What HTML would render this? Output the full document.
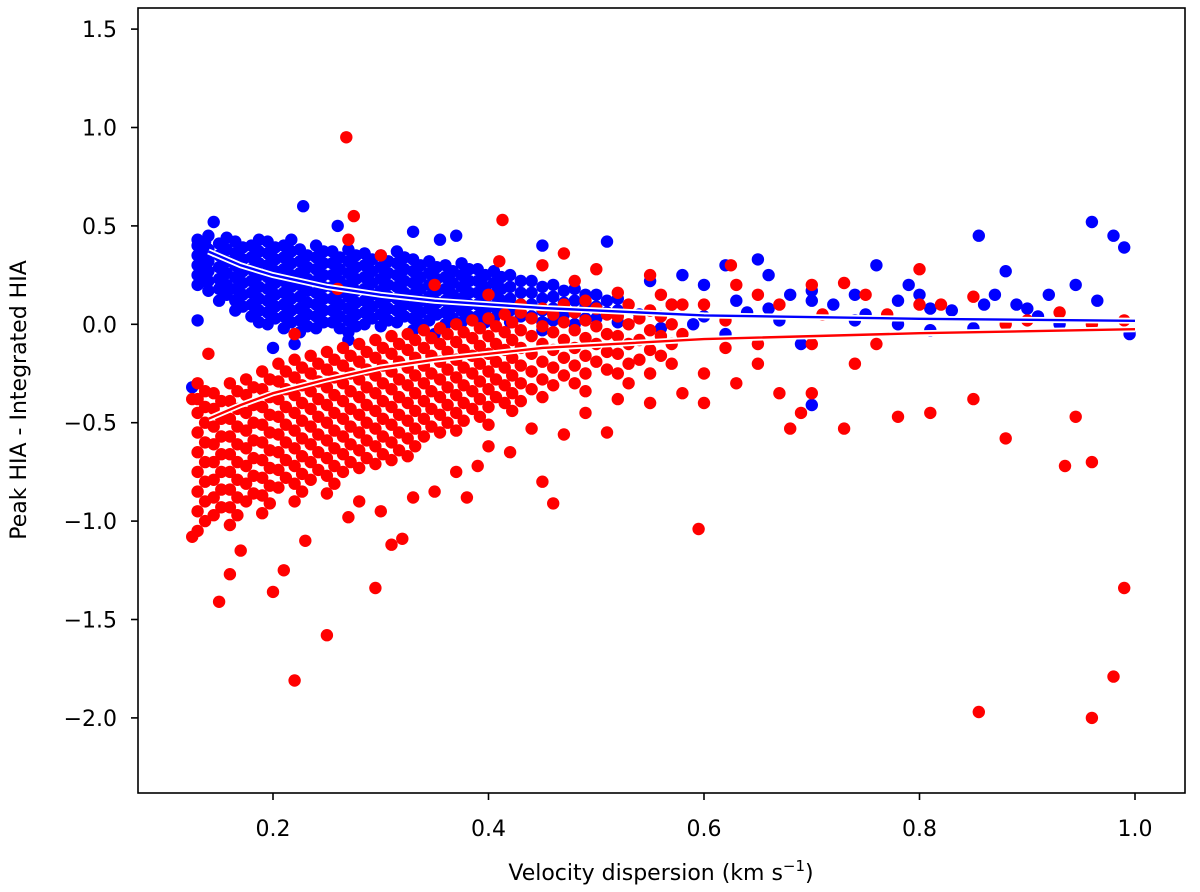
<!DOCTYPE html>
<html><head><meta charset="utf-8"><style>
html,body{margin:0;padding:0;background:#fff;}
svg{display:block;font-family:"DejaVu Sans","Liberation Sans",sans-serif;}
</style></head><body>
<svg id="chart" width="1200" height="892" viewBox="0 0 1200 892" xmlns="http://www.w3.org/2000/svg">
<g id="marks"></g>
<rect x="138" y="8" width="1047" height="785" fill="none" stroke="#000" stroke-width="1.6"/>
<g id="axes"></g>
<text x="661" y="880" font-size="22" text-anchor="middle">Velocity dispersion (km s<tspan dy="-9" font-size="15">−1</tspan><tspan dy="9">)</tspan></text>
<text transform="translate(26,400) rotate(-90)" font-size="22" text-anchor="middle">Peak HIA - Integrated HIA</text>
</svg>
<script>
const xTicks=[0.2,0.4,0.6,0.8,1.0];
const xTickLabels=["0.2","0.4","0.6","0.8","1.0"];
const yTicks=[1.5,1.0,0.5,0.0,-0.5,-1.0,-1.5,-2.0];
const yTickLabels=["1.5","1.0","0.5","0.0","−0.5","−1.0","−1.5","−2.0"];
const blueXY=[
0.13,0.40,0.13,0.35,0.13,0.30,0.13,0.25,0.13,0.20,0.13,0.43,
0.14,0.45,0.14,0.38,0.14,0.32,0.14,0.27,0.14,0.22,0.14,0.17,
0.15,0.41,0.15,0.35,0.15,0.29,0.15,0.23,0.15,0.18,0.15,0.12,
0.165,0.42,0.165,0.36,0.165,0.30,0.165,0.24,0.165,0.18,0.165,0.12,0.165,0.07,
0.18,0.40,0.18,0.34,0.18,0.28,0.18,0.22,0.18,0.16,0.18,0.10,0.18,0.04,
0.195,0.42,0.195,0.36,0.195,0.30,0.195,0.24,0.195,0.18,0.195,0.12,0.195,0.06,0.195,0.0,
0.21,0.40,0.21,0.34,0.21,0.28,0.21,0.22,0.21,0.16,0.21,0.10,0.21,0.04,0.21,-0.02,
0.225,0.38,0.225,0.32,0.225,0.26,0.225,0.20,0.225,0.14,0.225,0.08,0.225,0.02,0.225,-0.04,
0.24,0.40,0.24,0.34,0.24,0.28,0.24,0.22,0.24,0.16,0.24,0.10,0.24,0.04,0.24,-0.02,
0.255,0.37,0.255,0.31,0.255,0.25,0.255,0.19,0.255,0.13,0.255,0.07,0.255,0.01,
0.27,0.38,0.27,0.32,0.27,0.26,0.27,0.20,0.27,0.14,0.27,0.08,0.27,0.02,0.27,-0.04,
0.285,0.36,0.285,0.30,0.285,0.24,0.285,0.18,0.285,0.12,0.285,0.06,0.285,0.0,
0.30,0.35,0.30,0.29,0.30,0.23,0.30,0.17,0.30,0.11,0.30,0.05,0.30,-0.01,
0.315,0.37,0.315,0.31,0.315,0.25,0.315,0.19,0.315,0.13,0.315,0.07,0.315,0.01,
0.33,0.33,0.33,0.27,0.33,0.21,0.33,0.15,0.33,0.09,0.33,0.03,0.33,-0.03,
0.345,0.32,0.345,0.26,0.345,0.20,0.345,0.14,0.345,0.08,0.345,0.02,
0.36,0.30,0.36,0.24,0.36,0.18,0.36,0.12,0.36,0.06,0.36,0.0,
0.375,0.31,0.375,0.25,0.375,0.19,0.375,0.13,0.375,0.07,0.375,0.01,
0.39,0.28,0.39,0.22,0.39,0.16,0.39,0.10,0.39,0.04,
0.405,0.27,0.405,0.21,0.405,0.15,0.405,0.09,0.405,0.03,
0.42,0.25,0.42,0.19,0.42,0.13,0.42,0.07,0.42,0.01,
0.44,0.22,0.44,0.16,0.44,0.10,0.44,0.04,
0.46,0.20,0.46,0.14,0.46,0.08,0.46,0.02,
0.48,0.18,0.48,0.12,0.48,0.06,0.48,0.0,
0.50,0.15,0.50,0.09,0.50,0.03,
0.52,0.13,0.52,0.07,0.52,0.01,
0.137,0.42,0.137,0.37,0.137,0.32,0.137,0.27,0.137,0.22,
0.157,0.44,0.157,0.38,0.157,0.32,0.157,0.26,0.157,0.20,0.157,0.15,
0.172,0.39,0.172,0.33,0.172,0.27,0.172,0.21,0.172,0.15,0.172,0.09,
0.187,0.43,0.187,0.37,0.187,0.31,0.187,0.25,0.187,0.19,0.187,0.13,0.187,0.07,0.187,0.01,
0.202,0.39,0.202,0.33,0.202,0.27,0.202,0.21,0.202,0.15,0.202,0.09,0.202,0.03,
0.217,0.43,0.217,0.37,0.217,0.31,0.217,0.25,0.217,0.19,0.217,0.13,0.217,0.07,0.217,0.01,
0.232,0.35,0.232,0.29,0.232,0.23,0.232,0.17,0.232,0.11,0.232,0.05,0.232,-0.01,
0.247,0.37,0.247,0.31,0.247,0.25,0.247,0.19,0.247,0.13,0.247,0.07,0.247,0.01,
0.262,0.34,0.262,0.28,0.262,0.22,0.262,0.16,0.262,0.10,0.262,0.04,0.262,-0.02,
0.277,0.35,0.277,0.29,0.277,0.23,0.277,0.17,0.277,0.11,0.277,0.05,0.277,-0.01,
0.292,0.33,0.292,0.27,0.292,0.21,0.292,0.15,0.292,0.09,0.292,0.03,
0.307,0.32,0.307,0.26,0.307,0.20,0.307,0.14,0.307,0.08,0.307,0.02,
0.322,0.34,0.322,0.28,0.322,0.22,0.322,0.16,0.322,0.10,0.322,0.04,
0.337,0.30,0.337,0.24,0.337,0.18,0.337,0.12,0.337,0.06,0.337,0.0,
0.352,0.29,0.352,0.23,0.352,0.17,0.352,0.11,0.352,0.05,
0.367,0.27,0.367,0.21,0.367,0.15,0.367,0.09,0.367,0.03,
0.382,0.28,0.382,0.22,0.382,0.16,0.382,0.10,0.382,0.04,
0.397,0.25,0.397,0.19,0.397,0.13,0.397,0.07,0.397,0.01,
0.412,0.24,0.412,0.18,0.412,0.12,0.412,0.06,
0.43,0.22,0.43,0.16,0.43,0.10,0.43,0.04,
0.45,0.19,0.45,0.13,0.45,0.07,0.45,0.01,
0.47,0.17,0.47,0.11,0.47,0.05,
0.49,0.15,0.49,0.09,0.49,0.03,
0.51,0.12,0.51,0.06,
0.145,0.52,0.228,0.60,0.26,0.50,0.33,0.47,0.355,0.43,0.37,0.45,0.45,0.40,0.51,0.42,0.55,0.22,0.57,0.10,
0.58,0.25,0.60,0.20,0.60,0.04,0.62,0.30,0.63,0.12,0.64,0.06,0.65,0.33,0.66,0.25,0.67,0.02,0.68,0.15,
0.70,0.12,0.70,0.17,0.72,0.10,0.74,0.15,0.75,0.05,0.78,0.0,0.78,0.12,0.79,0.20,0.80,0.15,0.81,0.08,
0.83,0.07,0.855,0.45,0.87,0.15,0.88,0.27,0.89,0.10,0.90,0.08,0.91,0.04,0.96,0.52,0.98,0.45,0.99,0.39,
0.965,0.12,0.995,-0.05,0.85,-0.02,0.70,-0.41,0.69,-0.10,0.125,-0.32,0.13,0.02,0.22,-0.10,0.20,-0.12,0.27,-0.08,
0.35,-0.05,0.45,-0.03,0.54,0.05,0.56,-0.02,0.59,0.0,0.62,-0.05,0.66,0.08,0.74,0.02,0.81,-0.03,0.93,0.0,
0.945,0.20,0.76,0.30,0.86,0.10,0.92,0.15
];
const redXY=[
0.13,-0.38,0.13,-0.45,0.13,-0.55,0.13,-0.65,0.13,-0.75,0.13,-0.85,0.13,-0.95,0.13,-1.05,0.13,-0.30,
0.145,-0.35,0.145,-0.43,0.145,-0.52,0.145,-0.61,0.145,-0.70,0.145,-0.79,0.145,-0.88,0.145,-0.97,
0.16,-0.30,0.16,-0.39,0.16,-0.48,0.16,-0.57,0.16,-0.66,0.16,-0.75,0.16,-0.84,0.16,-0.93,0.16,-1.02,
0.175,-0.28,0.175,-0.36,0.175,-0.45,0.175,-0.54,0.175,-0.63,0.175,-0.72,0.175,-0.81,0.175,-0.90,
0.19,-0.24,0.19,-0.33,0.19,-0.42,0.19,-0.51,0.19,-0.60,0.19,-0.69,0.19,-0.78,0.19,-0.87,0.19,-0.96,
0.205,-0.20,0.205,-0.29,0.205,-0.38,0.205,-0.47,0.205,-0.56,0.205,-0.65,0.205,-0.74,0.205,-0.83,
0.22,-0.18,0.22,-0.27,0.22,-0.36,0.22,-0.45,0.22,-0.54,0.22,-0.63,0.22,-0.72,0.22,-0.81,0.22,-0.90,
0.235,-0.16,0.235,-0.25,0.235,-0.34,0.235,-0.43,0.235,-0.52,0.235,-0.61,0.235,-0.70,0.235,-0.79,
0.25,-0.14,0.25,-0.23,0.25,-0.32,0.25,-0.41,0.25,-0.50,0.25,-0.59,0.25,-0.68,0.25,-0.77,0.25,-0.86,
0.265,-0.12,0.265,-0.21,0.265,-0.30,0.265,-0.39,0.265,-0.48,0.265,-0.57,0.265,-0.66,0.265,-0.75,
0.28,-0.10,0.28,-0.19,0.28,-0.28,0.28,-0.37,0.28,-0.46,0.28,-0.55,0.28,-0.64,0.28,-0.73,
0.295,-0.08,0.295,-0.17,0.295,-0.26,0.295,-0.35,0.295,-0.44,0.295,-0.53,0.295,-0.62,0.295,-0.71,
0.31,-0.06,0.31,-0.15,0.31,-0.24,0.31,-0.33,0.31,-0.42,0.31,-0.51,0.31,-0.60,0.31,-0.69,
0.325,-0.05,0.325,-0.13,0.325,-0.22,0.325,-0.31,0.325,-0.40,0.325,-0.49,0.325,-0.58,0.325,-0.67,
0.34,-0.03,0.34,-0.12,0.34,-0.21,0.34,-0.30,0.34,-0.39,0.34,-0.48,0.34,-0.57,
0.355,-0.02,0.355,-0.10,0.355,-0.19,0.355,-0.28,0.355,-0.37,0.355,-0.46,0.355,-0.55,
0.37,0.0,0.37,-0.09,0.37,-0.18,0.37,-0.27,0.37,-0.36,0.37,-0.45,0.37,-0.54,
0.385,0.02,0.385,-0.07,0.385,-0.16,0.385,-0.25,0.385,-0.34,0.385,-0.43,
0.40,0.03,0.40,-0.06,0.40,-0.15,0.40,-0.24,0.40,-0.33,0.40,-0.42,0.40,-0.51,
0.415,0.05,0.415,-0.04,0.415,-0.13,0.415,-0.22,0.415,-0.31,0.415,-0.40,
0.43,0.06,0.43,-0.03,0.43,-0.12,0.43,-0.21,0.43,-0.30,0.43,-0.39,
0.45,0.08,0.45,-0.01,0.45,-0.10,0.45,-0.19,0.45,-0.28,0.45,-0.37,
0.47,0.10,0.47,0.01,0.47,-0.08,0.47,-0.17,0.47,-0.26,
0.49,0.12,0.49,0.02,0.49,-0.07,0.49,-0.16,0.49,-0.25,0.49,-0.34,
0.51,0.05,0.51,-0.05,0.51,-0.14,0.51,-0.23,
0.53,0.10,0.53,0.0,0.53,-0.10,0.53,-0.20,0.53,-0.30,
0.55,0.07,0.55,-0.03,0.55,-0.13,0.55,-0.25,
0.57,0.10,0.57,0.0,0.57,-0.10,0.57,-0.20,
0.137,-0.34,0.137,-0.42,0.137,-0.50,0.137,-0.60,0.137,-0.70,0.137,-0.80,0.137,-0.90,0.137,-1.0,
0.152,-0.39,0.152,-0.48,0.152,-0.57,0.152,-0.66,0.152,-0.75,0.152,-0.84,0.152,-0.93,
0.167,-0.34,0.167,-0.43,0.167,-0.52,0.167,-0.61,0.167,-0.70,0.167,-0.79,0.167,-0.88,0.167,-0.97,
0.182,-0.32,0.182,-0.41,0.182,-0.50,0.182,-0.59,0.182,-0.68,0.182,-0.77,0.182,-0.86,
0.197,-0.28,0.197,-0.37,0.197,-0.46,0.197,-0.55,0.197,-0.64,0.197,-0.73,0.197,-0.82,0.197,-0.91,
0.212,-0.24,0.212,-0.33,0.212,-0.42,0.212,-0.51,0.212,-0.60,0.212,-0.69,0.212,-0.78,
0.227,-0.22,0.227,-0.31,0.227,-0.40,0.227,-0.49,0.227,-0.58,0.227,-0.67,0.227,-0.76,0.227,-0.85,
0.242,-0.20,0.242,-0.29,0.242,-0.38,0.242,-0.47,0.242,-0.56,0.242,-0.65,0.242,-0.74,
0.257,-0.18,0.257,-0.27,0.257,-0.36,0.257,-0.45,0.257,-0.54,0.257,-0.63,0.257,-0.72,0.257,-0.81,
0.272,-0.16,0.272,-0.25,0.272,-0.34,0.272,-0.43,0.272,-0.52,0.272,-0.61,0.272,-0.70,
0.287,-0.14,0.287,-0.23,0.287,-0.32,0.287,-0.41,0.287,-0.50,0.287,-0.59,0.287,-0.68,
0.302,-0.12,0.302,-0.21,0.302,-0.30,0.302,-0.39,0.302,-0.48,0.302,-0.57,0.302,-0.66,
0.317,-0.10,0.317,-0.19,0.317,-0.28,0.317,-0.37,0.317,-0.46,0.317,-0.55,0.317,-0.64,
0.332,-0.08,0.332,-0.17,0.332,-0.26,0.332,-0.35,0.332,-0.44,0.332,-0.53,0.332,-0.62,
0.347,-0.07,0.347,-0.16,0.347,-0.25,0.347,-0.34,0.347,-0.43,0.347,-0.52,
0.362,-0.05,0.362,-0.14,0.362,-0.23,0.362,-0.32,0.362,-0.41,0.362,-0.50,
0.377,-0.04,0.377,-0.13,0.377,-0.22,0.377,-0.31,0.377,-0.40,0.377,-0.49,
0.392,-0.02,0.392,-0.11,0.392,-0.20,0.392,-0.29,0.392,-0.38,0.392,-0.47,
0.407,-0.01,0.407,-0.10,0.407,-0.19,0.407,-0.28,0.407,-0.37,
0.422,0.01,0.422,-0.08,0.422,-0.17,0.422,-0.26,0.422,-0.35,0.422,-0.44,
0.44,0.03,0.44,-0.06,0.44,-0.15,0.44,-0.24,0.44,-0.33,
0.46,0.05,0.46,-0.04,0.46,-0.13,0.46,-0.22,0.46,-0.31,
0.48,0.06,0.48,-0.03,0.48,-0.12,0.48,-0.21,0.48,-0.30,
0.50,0.08,0.50,-0.01,0.50,-0.10,0.50,-0.19,
0.52,0.04,0.52,-0.06,0.52,-0.15,0.52,-0.25,
0.54,0.03,0.54,-0.08,0.54,-0.18,
0.56,0.04,0.56,-0.06,0.56,-0.16,
0.268,0.95,0.275,0.55,0.413,0.53,0.27,0.43,0.30,0.35,0.47,0.36,0.41,0.32,0.45,0.30,0.50,0.28,0.55,0.25,
0.63,0.20,0.625,0.30,0.65,0.15,0.70,0.20,0.73,0.21,0.75,0.15,0.80,0.10,0.80,0.28,0.85,0.14,0.90,0.02,
0.93,0.06,0.96,0.0,0.99,0.02,0.60,0.10,0.62,-0.12,0.65,-0.20,0.67,-0.35,0.68,-0.53,0.69,-0.45,0.70,-0.35,
0.73,-0.53,0.76,-0.10,0.78,-0.47,0.81,-0.45,0.85,-0.38,0.88,-0.58,0.945,-0.47,0.935,-0.72,0.96,-0.70,0.99,-1.34,
0.98,-1.79,0.96,-2.0,0.855,-1.97,0.595,-1.04,0.22,-1.81,0.25,-1.58,0.295,-1.34,0.27,-0.98,0.23,-1.10,0.20,-1.36,
0.21,-1.25,0.15,-1.41,0.16,-1.27,0.17,-1.15,0.125,-1.08,0.31,-1.12,0.32,-1.09,0.30,-0.95,0.28,-0.90,0.33,-0.88,
0.35,-0.85,0.38,-0.88,0.37,-0.75,0.39,-0.72,0.42,-0.65,0.40,-0.62,0.45,-0.80,0.46,-0.91,0.44,-0.53,0.47,-0.56,
0.51,-0.55,0.49,-0.45,0.55,-0.40,0.58,-0.35,0.60,-0.25,0.60,-0.40,0.52,-0.38,0.63,-0.30,0.65,-0.10,0.58,-0.05,
0.14,-0.15,0.125,-0.38,0.22,-0.05,0.26,0.18,0.35,0.20,0.40,0.15,0.43,0.10,0.48,0.22,0.56,0.15,0.58,0.10,
0.52,0.16,0.62,0.02,0.67,0.10,0.71,0.05,0.77,0.05,0.82,0.10,0.88,0.0,0.70,-0.10,0.74,-0.20
];
const fitX=[0.14,0.17,0.2,0.25,0.3,0.35,0.45,0.6,0.8,1.0];
const blueFitY=[0.37,0.30,0.25,0.19,0.15,0.12,0.083,0.045,0.028,0.018];
const redFitY=[-0.48,-0.41,-0.35,-0.28,-0.22,-0.18,-0.12,-0.075,-0.045,-0.025];

const NS="http://www.w3.org/2000/svg";
function sx(v){return 57.5+v*1077.5;}
function sy(v){return 324.3-v*196.8;}
const marks=document.getElementById('marks');
const axes=document.getElementById('axes');
function mk(tag,attrs,parent){const e=document.createElementNS(NS,tag);for(const k in attrs)e.setAttribute(k,attrs[k]);parent.appendChild(e);return e;}

function drawPts(arr,color,name){
  const g=mk('g',{},marks);
  
  
  for(let i=0;i<arr.length;i+=2){
    const c=mk('circle',{cx:sx(arr[i]).toFixed(1),cy:sy(arr[i+1]).toFixed(1),r:6.2,fill:color},g);
    
    
  }
}
drawPts(blueXY,'#0000ff','blue');
drawPts(redXY,'#ff0000','red');

function drawFit(ys,color,name){
  const d=fitX.map((x,i)=>(i?'L':'M')+sx(x).toFixed(1)+' '+sy(ys[i]).toFixed(1)).join(' ');
  const w=mk('path',{d:d,fill:'none',stroke:'#fff','stroke-width':6},marks);
  
  
  const p=mk('path',{d:d,fill:'none',stroke:color,'stroke-width':2.4},marks);
  
  
}
drawFit(blueFitY,'#0000ff','blue');
drawFit(redFitY,'#ff0000','red');

xTicks.forEach((v,i)=>{
  const x=sx(v);
  const t=mk('line',{x1:x,x2:x,y1:793,y2:800,stroke:'#000','stroke-width':1.6},axes);
  
  
  const l=mk('text',{x:x,y:836,'font-size':22,'text-anchor':'middle'},axes);
  l.textContent=xTickLabels[i];
  
  
});
yTicks.forEach((v,i)=>{
  const y=sy(v);
  const t=mk('line',{x1:131,x2:138,y1:y,y2:y,stroke:'#000','stroke-width':1.6},axes);
  
  
  const l=mk('text',{x:117,y:y+8,'font-size':22,'text-anchor':'end'},axes);
  l.textContent=yTickLabels[i];
  
  
});
</script>
</body></html>
